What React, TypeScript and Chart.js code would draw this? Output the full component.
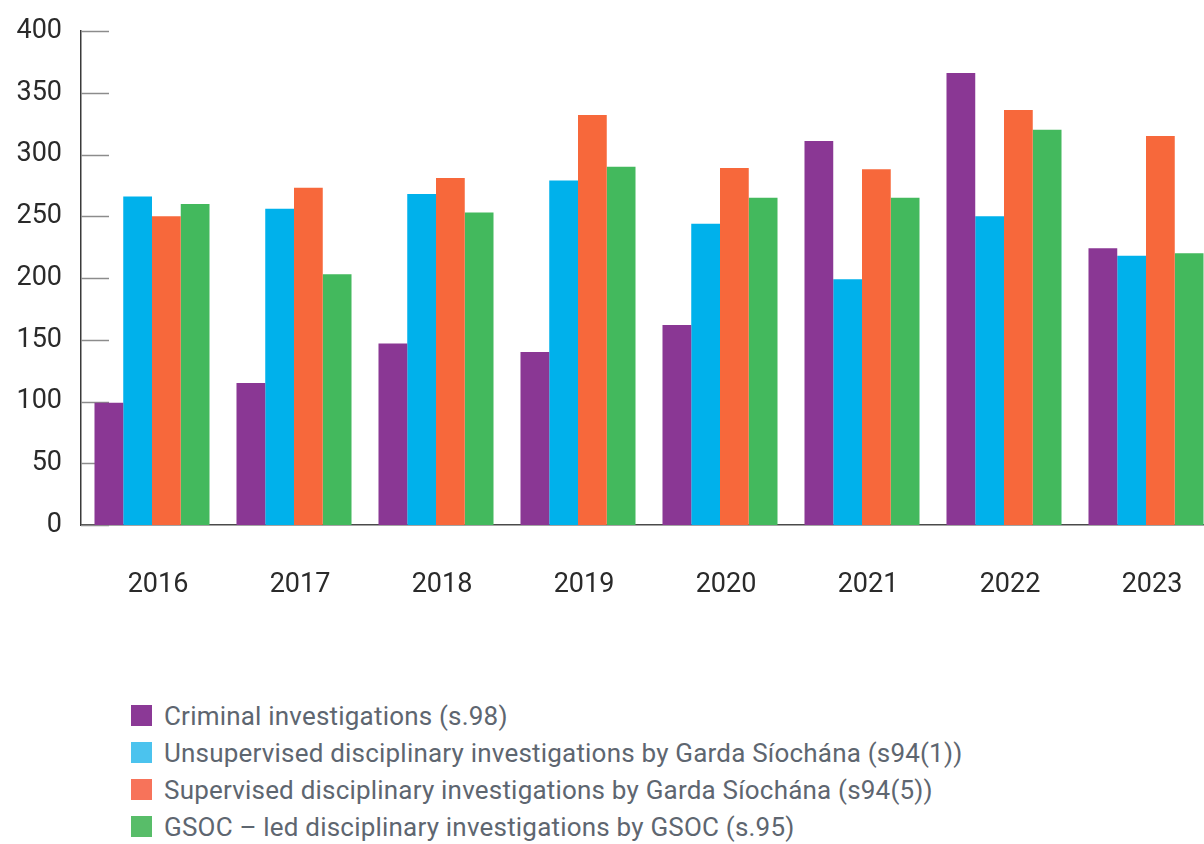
import React, { useEffect, useRef } from "react";
import { Chart, registerables } from "chart.js";

Chart.register(...registerables);

const years = ["2016", "2017", "2018", "2019", "2020", "2021", "2022", "2023"];
const criminal = [99, 115, 147, 140, 162, 311, 366, 224];
const unsupervised = [266, 256, 268, 279, 244, 199, 250, 218];
const supervised = [250, 273, 281, 332, 289, 288, 336, 315];
const gsocLed = [260, 203, 253, 290, 265, 265, 320, 220];
const yTicks = [0, 50, 100, 150, 200, 250, 300, 350, 400];

const seriesLabels = [
  "Criminal investigations (s.98)",
  "Unsupervised disciplinary investigations by Garda Síochána (s94(1))",
  "Supervised disciplinary investigations by Garda Síochána (s94(5))",
  "GSOC – led disciplinary investigations by GSOC (s.95)",
];
const barColors = ["#8a3794", "#00b1eb", "#f7683b", "#43b95d"];
const legendColors = ["#8b3996", "#4bc3ee", "#f7735a", "#58bd69"];

const FONT = "Roboto, 'DejaVu Sans', sans-serif";

const innerTicks = {
  id: "innerTicks",
  beforeDatasetsDraw(chart: any) {
    const y = chart.scales.y;
    const left = chart.chartArea.left;
    const ctx = chart.ctx;
    ctx.save();
    ctx.strokeStyle = "#8c8c8c";
    ctx.lineWidth = 1.5;
    y.ticks.forEach((t: any) => {
      const py = Math.round(y.getPixelForValue(t.value)) + 0.5;
      ctx.beginPath();
      ctx.moveTo(left, py);
      ctx.lineTo(left + 28, py);
      ctx.stroke();
    });
    ctx.restore();
  },
};

export default function App() {
  const ref = useRef<HTMLCanvasElement | null>(null);

  useEffect(() => {
    document.body.style.margin = "0";
    document.body.style.overflow = "hidden";
    const dataArrays = [criminal, unsupervised, supervised, gsocLed];
    const chart = new Chart(ref.current as HTMLCanvasElement, {
      type: "bar",
      data: {
        labels: years,
        datasets: dataArrays.map((d, i) => ({
          label: seriesLabels[i],
          data: d,
          backgroundColor: barColors[i],
          borderWidth: 0,
          barPercentage: 1,
          categoryPercentage: 0.81,
        })),
      },
      options: {
        responsive: false,
        animation: false,
        devicePixelRatio: 1,
        layout: { padding: { top: 31, left: 0, right: 0, bottom: 0 } },
        plugins: { legend: { display: false }, tooltip: { enabled: false } },
        scales: {
          x: {
            grid: { display: false, drawTicks: true, tickLength: 44 },
            border: { display: true, color: "#4a4a4a", width: 1.5 },
            ticks: {
              color: "#2a2a2a",
              font: { family: FONT, size: 27 },
              padding: 0,
              labelOffset: 6,
              maxRotation: 0,
            },
            afterFit: (s: any) => {
              s.height = 95;
            },
          },
          y: {
            min: 0,
            max: 400,
            afterBuildTicks: (s: any) => {
              s.ticks = yTicks.map((v) => ({ value: v }));
            },
            grid: { display: false, drawTicks: true, tickLength: 19 },
            border: { display: true, color: "#3a3a3a", width: 1.5 },
            ticks: {
              color: "#2a2a2a",
              font: { family: FONT, size: 27 },
              padding: 0,
            },
            afterFit: (s: any) => {
              s.width = 81;
            },
          },
        },
      },
      plugins: [innerTicks],
    });
    return () => chart.destroy();
  }, []);

  return (
    <div style={{ position: "relative", width: 1204, height: 844, overflow: "hidden", background: "#fff" }}>
      <canvas ref={ref} width={1217} height={620} style={{ position: "absolute", left: 0, top: 0 }} />
      <div style={{ position: "absolute", left: 131, top: 697, fontFamily: FONT, fontSize: 26, letterSpacing: 0.2, color: "#5e6670" }}>
        {seriesLabels.map((l, i) => (
          <div key={l} style={{ height: 37, display: "flex", alignItems: "center", whiteSpace: "nowrap" }}>
            <span style={{ display: "inline-block", width: 21, height: 21, background: legendColors[i], marginRight: 12, flex: "none" }} />
            <span>{l}</span>
          </div>
        ))}
      </div>
    </div>
  );
}
